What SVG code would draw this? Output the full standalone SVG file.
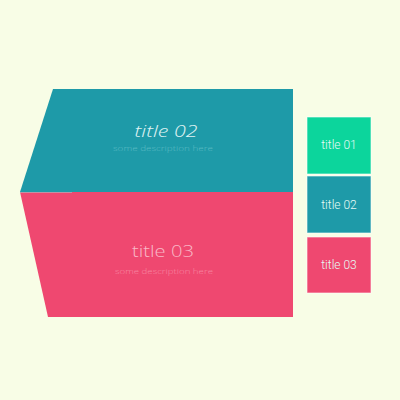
<svg xmlns="http://www.w3.org/2000/svg" width="400" height="400" viewBox="0 0 400 400">
<style>
.t{font-family:"Open Sans","Liberation Sans",sans-serif;text-anchor:middle}
.lg{font-size:17px;font-weight:300}
.ds{font-size:7px;font-weight:300}
.sm{font-family:Roboto,"Liberation Sans",sans-serif;font-size:12px;font-weight:300;fill:#e6fbf5;text-anchor:middle}
.box{stroke:#ffffff;stroke-opacity:0.6;stroke-width:1}
</style>
<rect width="400" height="400" fill="#f8fde6"/>
<g id="face-02">
<polygon points="53,89 293,89 293,192 20,192" fill="#1e9aa8"/>
<text class="t lg" x="166" y="136.5" fill="#e0f4f4" font-style="italic" textLength="63" lengthAdjust="spacingAndGlyphs">title 02</text>
<text class="t ds" x="163" y="151" fill="#5cbcc4" textLength="100" lengthAdjust="spacingAndGlyphs">some description here</text>
</g>
<g id="face-03">
<polygon points="20,192 293,192 293,317 48,317" fill="#ef4870"/>
<line x1="20" y1="192.5" x2="72" y2="192.5" stroke="#9fc7c9" stroke-width="1" stroke-opacity="0.6"/>
<text class="t lg" x="163" y="256.5" fill="#f9b8c7" textLength="62" lengthAdjust="spacingAndGlyphs">title 03</text>
<text class="t ds" x="164" y="274" fill="#f78aa3" textLength="98" lengthAdjust="spacingAndGlyphs">some description here</text>
</g>
<g id="legend-01">
<rect class="box" x="307" y="117" width="64" height="57" fill="#0cd59c"/>
<text class="sm" x="339" y="149">title 01</text>
</g>
<g id="legend-02">
<rect class="box" x="307" y="176" width="64" height="57" fill="#1e9aa8"/>
<text class="sm" x="339" y="209">title 02</text>
</g>
<g id="legend-03">
<rect class="box" x="307" y="237" width="64" height="56" fill="#ef4870"/>
<text class="sm" x="339" y="269">title 03</text>
</g>
</svg>
